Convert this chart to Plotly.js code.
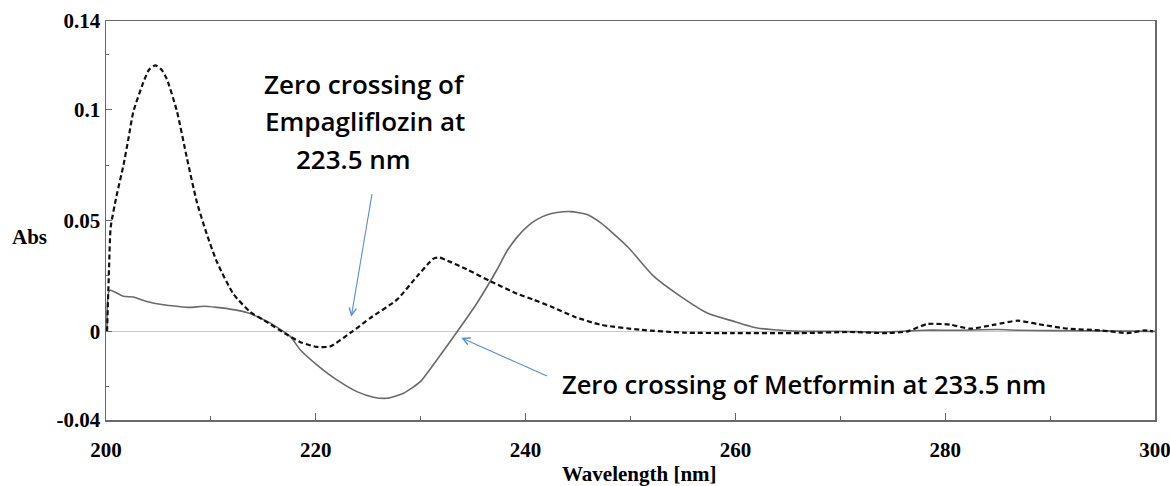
<!DOCTYPE html>
<html>
<head>
<meta charset="utf-8">
<script src="https://cdn.plot.ly/plotly-3.0.1.min.js"></script>
<style>html,body{margin:0;padding:0;background:#fff;}#chart{width:1170px;height:486px;}</style>
</head>
<body>
<div id="chart"></div>
<script>
// Dashed spectrum (zero crossing at 223.5 nm)
const dashedWavelength = [200.1,200.3,200.45,201.0,201.65,202.13,202.6,203.56,204.1,204.7,205.3,205.8,206.75,207.7,208.65,209.6,210.56,212.15,213.74,215.0,217.24,218.6,220.1,221.37,223.5,225.19,227.74,229.65,231.23,231.8,232.4,234.42,236.64,239.19,240.74,242.37,244.59,247.14,250.95,255.06,259.83,266.2,271.0,274.5,276.4,278.3,280.5,282.4,284.7,286.9,288.8,291.7,294.9,297.4,299.0,299.8];
const dashedAbs = [0,0.03,0.047,0.061,0.0746,0.0867,0.0989,0.1123,0.118,0.120,0.118,0.1138,0.0995,0.0785,0.0585,0.0440,0.0315,0.0168,0.0088,0.0052,-0.0015,-0.005,-0.007,-0.0068,0.0,0.006,0.0143,0.0248,0.0328,0.0333,0.0322,0.0279,0.0226,0.017,0.0143,0.0113,0.0067,0.003,0.0007,-0.0006,-0.0008,-0.0008,-0.0003,-0.0008,0,0.0033,0.003,0.0012,0.003,0.0048,0.0033,0.0012,0.0004,-0.0008,0.0004,0];

// Solid spectrum (zero crossing at 233.5 nm)
const solidWavelength = [200.1,200.35,201.65,202.6,203.88,205.47,206.75,208.0,209.28,210.56,212.15,213.43,214.38,215.65,217.56,218.51,220.1,222.01,223.92,225.5,226.78,228.37,229.96,231.55,233.5,235.37,237.28,238.2,239.19,240.2,241.1,242.0,243.0,244.27,245.87,247.14,249.68,252.23,254.77,257.32,259.86,262.09,263.68,266.22,270,274,278,281,285,287,290,295,300];
const solidAbs = [0,0.0185,0.0158,0.0155,0.0135,0.012,0.0113,0.0108,0.0113,0.0108,0.0098,0.0085,0.0067,0.0038,-0.0023,-0.0083,-0.0151,-0.0219,-0.0272,-0.0297,-0.0302,-0.0279,-0.0227,-0.0128,0.0,0.0128,0.0279,0.036,0.0425,0.0475,0.0505,0.0525,0.0536,0.054,0.0527,0.049,0.0384,0.0248,0.0158,0.0083,0.0045,0.0015,0.0007,0,0,-0.0003,0.0005,0.0005,0.0008,0.0005,0.0003,0.0002,0];

const yTickVals = [-0.04, 0, 0.05, 0.1, 0.14];
const yTickText = ["-0.04", "0", "0.05", "0.1", "0.14"];
const xTickVals = [200, 220, 240, 260, 280, 300];
const xTickText = ["200", "220", "240", "260", "280", "300"];

const tickFont = {family: "Liberation Serif, Times New Roman, serif", size: 21, color: "#000", weight: "bold"};
const noteFont1 = {family: "Open Sans, sans-serif", size: 26, color: "#000", weight: 600};
const noteFont2 = {family: "Open Sans, sans-serif", size: 25.5, color: "#000", weight: 600};
const arrowColor = "#5b8fd0";

const traces = [
  {x: solidWavelength, y: solidAbs, mode: "lines", line: {color: "#6a6a6a", width: 1.6, shape: "spline", smoothing: 0.6}, hoverinfo: "skip"},
  {x: dashedWavelength, y: dashedAbs, mode: "lines", line: {color: "#111", width: 2.2, dash: "5px,3px", shape: "spline", smoothing: 0.6}, hoverinfo: "skip"}
];

function note(text, xv, yv, f) {
  return {xref: "x", yref: "y", x: xv, y: yv, xanchor: "center", yanchor: "middle", showarrow: false, text: text, font: f};
}

const layout = {
  width: 1170, height: 486,
  margin: {l: 106, r: 15, t: 21, b: 66},
  paper_bgcolor: "#fff", plot_bgcolor: "#fff",
  showlegend: false,
  xaxis: {
    range: [200, 300], tickmode: "array", tickvals: xTickVals, ticktext: xTickText,
    ticks: "inside", ticklen: 7, tickwidth: 1, tickcolor: "#666",
    minor: {tickvals: [210, 230, 250, 270, 290], ticks: "inside", ticklen: 4, tickcolor: "#666"},
    showline: true, linecolor: "#6a6a6a", linewidth: 1.5, mirror: true,
    showgrid: false, zeroline: false, tickfont: tickFont, ticklabelstandoff: 10,
    ticklabeloverflow: "allow"
  },
  yaxis: {
    range: [-0.04, 0.14], tickmode: "array", tickvals: yTickVals, ticktext: yTickText,
    ticks: "inside", ticklen: 6, tickwidth: 1, tickcolor: "#666",
    minor: {tickvals: [-0.025, 0.025, 0.075, 0.125], ticks: "inside", ticklen: 3, tickcolor: "#666"},
    showline: true, linecolor: "#6a6a6a", linewidth: 1.5, mirror: true,
    showgrid: false, zeroline: true, zerolinecolor: "#c8c8c8", zerolinewidth: 1.5,
    tickfont: tickFont, ticklabeloverflow: "allow"
  },
  annotations: [
    {xref: "paper", yref: "paper", x: 0.509, y: -0.135, yanchor: "middle", xanchor: "center", showarrow: false,
     text: "Wavelength [nm]", font: tickFont},
    {xref: "paper", yref: "paper", x: -0.0725, y: 0.4586, xanchor: "center", yanchor: "middle", showarrow: false,
     text: "Abs", font: tickFont},
    note("Zero crossing of", 224.6, 0.1116, noteFont1),
    note("Empagliflozin at", 224.7, 0.0948, noteFont1),
    note("223.5 nm", 223.6, 0.0776, noteFont1),
    note("Zero crossing of Metformin at 233.5 nm", 266.5, -0.0237, noteFont2),
    {xref: "x", yref: "y", x: 223.38, y: 0.0066, axref: "x", ayref: "y", ax: 225.38, ay: 0.0626,
     text: "", showarrow: true, arrowhead: 5, arrowsize: 1.3, arrowwidth: 1.1, arrowcolor: arrowColor},
    {xref: "x", yref: "y", x: 233.87, y: -0.0029, axref: "x", ayref: "y", ax: 242.18, ay: -0.0205,
     text: "", showarrow: true, arrowhead: 5, arrowsize: 1.3, arrowwidth: 1.1, arrowcolor: arrowColor}
  ]
};

Plotly.newPlot("chart", traces, layout, {staticPlot: true, displayModeBar: false});
</script>
</body>
</html>
